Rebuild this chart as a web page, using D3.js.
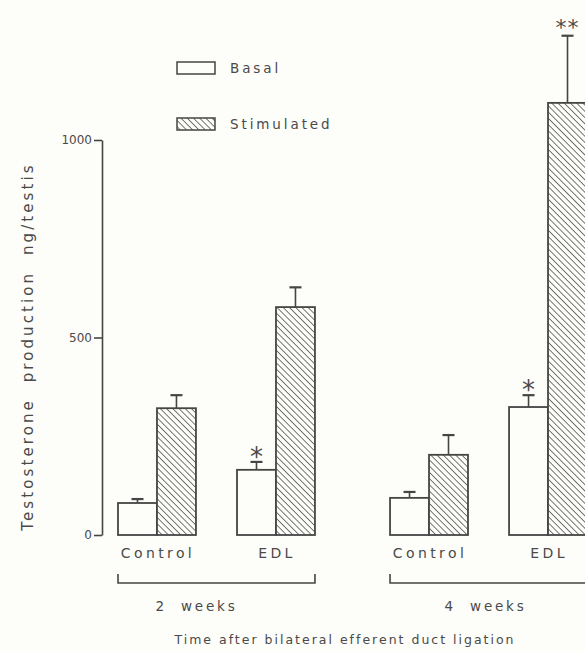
<!DOCTYPE html>
<html>
<head>
<meta charset="utf-8">
<script src="https://cdn.jsdelivr.net/npm/d3@7"></script>
<style>
  html, body { margin: 0; padding: 0; background: #fdfdf9; }
  svg { display: block; }
  text { font-family: "DejaVu Sans", sans-serif; fill: #4a4a4a; white-space: pre; }
</style>
</head>
<body>
<svg id="chart" width="585" height="653"></svg>
<script>
// Testosterone production per testis, basal vs hCG-stimulated
const weeks = ["2 weeks", "4 weeks"];
const conditions = ["Control", "EDL"];
const seriesNames = ["Basal", "Stimulated"];

// values ordered: 2w Control, 2w EDL, 4w Control, 4w EDL
const basal = [81, 165, 94, 324];
const stimulated = [321, 577, 203, 1094];
const basalErr = [10, 20, 15, 30];
const stimulatedErr = [33, 50, 50, 170];
const basalMarks = ["", "*", "", "*"];
const stimulatedMarks = ["", "", "", "**"];

const yTicks = [0, 500, 1000];
const yTitle = "Testosterone  production  ng/testis";
const xTitle = "Time after bilateral efferent duct ligation";

const ink = "#454545";
const svg = d3.select("#chart");

// hatch fill for stimulated bars
const defs = svg.append("defs");
const pat = defs.append("pattern")
  .attr("id", "hatch")
  .attr("patternUnits", "userSpaceOnUse")
  .attr("width", 4.4).attr("height", 4.4)
  .attr("patternTransform", "rotate(-45)");
pat.append("rect").attr("width", 4.4).attr("height", 4.4).attr("fill", "#fdfdf9");
pat.append("line")
  .attr("x1", 0).attr("y1", 0).attr("x2", 0).attr("y2", 4.4)
  .attr("stroke", "#555").attr("stroke-width", 1.6);

const y = d3.scaleLinear().domain([0, 1000]).range([535, 140]);

const xWeek = d3.scaleBand().domain(weeks).range([118, 587]).paddingInner(0.276).paddingOuter(0);
const xCond = d3.scaleBand().domain(conditions).range([0, xWeek.bandwidth()]).paddingInner(0.345).paddingOuter(0);
const xSeries = d3.scaleBand().domain(seriesNames).range([0, xCond.bandwidth()]).padding(0);

// flatten into rows
const rows = [];
weeks.forEach((w, wi) => conditions.forEach((c, ci) => {
  const i = wi * conditions.length + ci;
  rows.push({ week: w, cond: c, series: "Basal", v: basal[i], e: basalErr[i], mark: basalMarks[i] });
  rows.push({ week: w, cond: c, series: "Stimulated", v: stimulated[i], e: stimulatedErr[i], mark: stimulatedMarks[i] });
}));
const xPos = d => xWeek(d.week) + xCond(d.cond) + xSeries(d.series);

// y axis
const yAxis = svg.append("g")
  .attr("transform", "translate(102,0)")
  .call(d3.axisLeft(y).tickValues(yTicks).tickFormat(d3.format("d"))
    .tickSize(8).tickSizeOuter(0).tickPadding(2));
yAxis.select(".domain").attr("stroke", ink).attr("stroke-width", 1.6);
yAxis.selectAll(".tick line").attr("stroke", ink).attr("stroke-width", 1.6);
yAxis.selectAll(".tick text")
  .style("font-family", "'DejaVu Sans', sans-serif")
  .style("font-size", "12px").style("fill", "#4a4a4a");

svg.append("text")
  .attr("transform", `translate(33,${(160 + 533) / 2}) rotate(-90)`)
  .attr("text-anchor", "middle")
  .attr("letter-spacing", "3.1")
  .style("font-size", "15px")
  .text(yTitle);

// error bars (drawn first so bar outlines sit on top)
const err = svg.append("g");
rows.forEach(d => {
  const cx = xPos(d) + xSeries.bandwidth() / 2;
  err.append("line")
    .attr("x1", cx).attr("x2", cx).attr("y1", y(d.v)).attr("y2", y(d.v + d.e))
    .attr("stroke", ink).attr("stroke-width", 1.6);
  err.append("line")
    .attr("x1", cx - 6).attr("x2", cx + 6).attr("y1", y(d.v + d.e)).attr("y2", y(d.v + d.e))
    .attr("stroke", ink).attr("stroke-width", 2.2);
  if (d.mark) {
    svg.append("text")
      .attr("x", cx).attr("y", y(d.v + d.e) + (d.mark.length > 1 ? -1 : 4))
      .attr("text-anchor", "middle")
      .style("font-size", d.mark.length > 1 ? "22px" : "26px")
      .attr("letter-spacing", d.mark.length > 1 ? "1" : "0")
      .text(d.mark);
  }
});

// bars
svg.append("g").selectAll("rect").data(rows).join("rect")
  .attr("x", xPos)
  .attr("y", d => y(d.v))
  .attr("width", xSeries.bandwidth())
  .attr("height", d => y(0) - y(d.v))
  .attr("fill", d => d.series === "Basal" ? "#fdfdf9" : "url(#hatch)")
  .attr("stroke", ink).attr("stroke-width", 1.8);

// condition labels
weeks.forEach(w => conditions.forEach(c => {
  svg.append("text")
    .attr("x", xWeek(w) + xCond(c) + xCond.bandwidth() / 2 + 1)
    .attr("y", 558)
    .attr("text-anchor", "middle")
    .attr("letter-spacing", "3.4")
    .style("font-size", "14px")
    .text(c);
}));

// week brackets and labels
const weekLabelShift = [-20, -3];
weeks.forEach((w, i) => {
  const x0 = xWeek(w), x1 = xWeek(w) + xWeek.bandwidth();
  svg.append("path")
    .attr("d", `M${x0},574 V583 H${x1} V574`)
    .attr("fill", "none").attr("stroke", ink).attr("stroke-width", 1.6);
  svg.append("text")
    .attr("x", (x0 + x1) / 2 + weekLabelShift[i]).attr("y", 611)
    .attr("text-anchor", "middle")
    .attr("letter-spacing", "2.8")
    .style("font-size", "13.5px")
    .text(w.replace(" ", "  "));
});

svg.append("text")
  .attr("x", 345).attr("y", 644)
  .attr("text-anchor", "middle")
  .attr("letter-spacing", "2")
  .style("font-size", "12.5px")
  .text(xTitle);

// legend
const legend = svg.append("g");
seriesNames.forEach((s, i) => {
  const ly = 62 + i * 56;
  legend.append("rect")
    .attr("x", 177).attr("y", ly).attr("width", 38).attr("height", 12)
    .attr("fill", s === "Basal" ? "#fdfdf9" : "url(#hatch)")
    .attr("stroke", ink).attr("stroke-width", 1.5);
  legend.append("text")
    .attr("x", 230).attr("y", ly + 11)
    .attr("letter-spacing", "2.9")
    .style("font-size", "13.5px")
    .text(s);
});
</script>
</body>
</html>
